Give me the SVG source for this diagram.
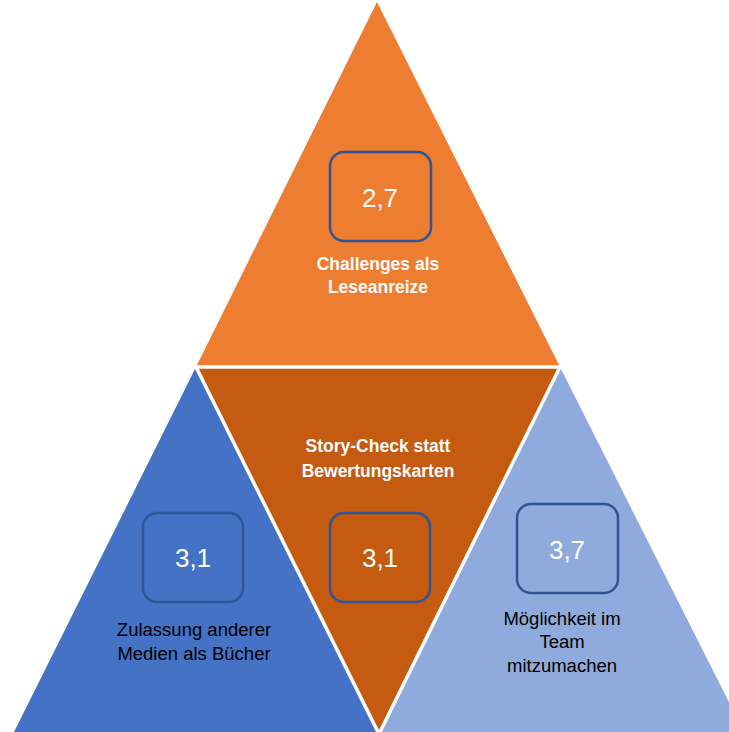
<svg xmlns="http://www.w3.org/2000/svg" width="729" height="732" viewBox="0 0 729 732">
  <style>
    .gap { stroke: #FFFFFF; stroke-width: 3.5; stroke-linecap: butt; fill: none; }
    .box { fill: none; stroke: #2F5597; stroke-width: 2.5; }
    .val { font-family: "Liberation Sans", Arial, sans-serif; font-size: 26px; fill: #FFFFFF; text-anchor: middle; }
    .lblw { font-family: "Liberation Sans", Arial, sans-serif; font-size: 17.5px; font-weight: bold; fill: #FFFFFF; text-anchor: middle; }
    .lblb { font-family: "Liberation Sans", Arial, sans-serif; font-size: 18.5px; fill: #000000; text-anchor: middle; }
  </style>
  <rect width="729" height="732" fill="#FFFFFF"/>

  <!-- top segment -->
  <g id="challenges">
    <polygon points="377,2 196,367 560,367" fill="#ED7D31"/>
    <rect class="box" x="330" y="152" width="101" height="89" rx="14"/>
    <text class="val" x="380" y="207">2,7</text>
    <text class="lblw" x="378" y="270">Challenges als</text>
    <text class="lblw" x="378" y="293">Leseanreize</text>
  </g>

  <!-- centre (inverted) segment -->
  <g id="story-check">
    <polygon points="196,367 560,367 379,732" fill="#C55A11"/>
    <text class="lblw" x="378" y="452">Story-Check statt</text>
    <text class="lblw" x="378" y="477">Bewertungskarten</text>
    <rect class="box" x="330" y="513" width="100" height="89" rx="14"/>
    <text class="val" x="380" y="567">3,1</text>
  </g>

  <!-- left segment -->
  <g id="medien">
    <polygon points="196,367 14,732 379,732" fill="#4472C4"/>
    <rect class="box" x="143" y="513" width="100" height="89" rx="14" stroke="#2F528F"/>
    <text class="val" x="193" y="567">3,1</text>
    <text class="lblb" x="194" y="636">Zulassung anderer</text>
    <text class="lblb" x="194" y="660">Medien als Bücher</text>
  </g>

  <!-- right segment -->
  <g id="team">
    <polygon points="560,367 379,732 744,732" fill="#8FAADC"/>
    <rect class="box" x="517" y="504" width="101" height="89" rx="14"/>
    <text class="val" x="567" y="559">3,7</text>
    <text class="lblb" x="562" y="625">Möglichkeit im</text>
    <text class="lblb" x="562" y="648">Team</text>
    <text class="lblb" x="562" y="672">mitzumachen</text>
  </g>

  <!-- white gaps between the segments -->
  <g id="separators">
    <line class="gap" x1="190" y1="367" x2="566" y2="367"/>
    <line class="gap" x1="196" y1="367" x2="379" y2="734"/>
    <line class="gap" x1="560" y1="367" x2="379" y2="734"/>
  </g>
</svg>
